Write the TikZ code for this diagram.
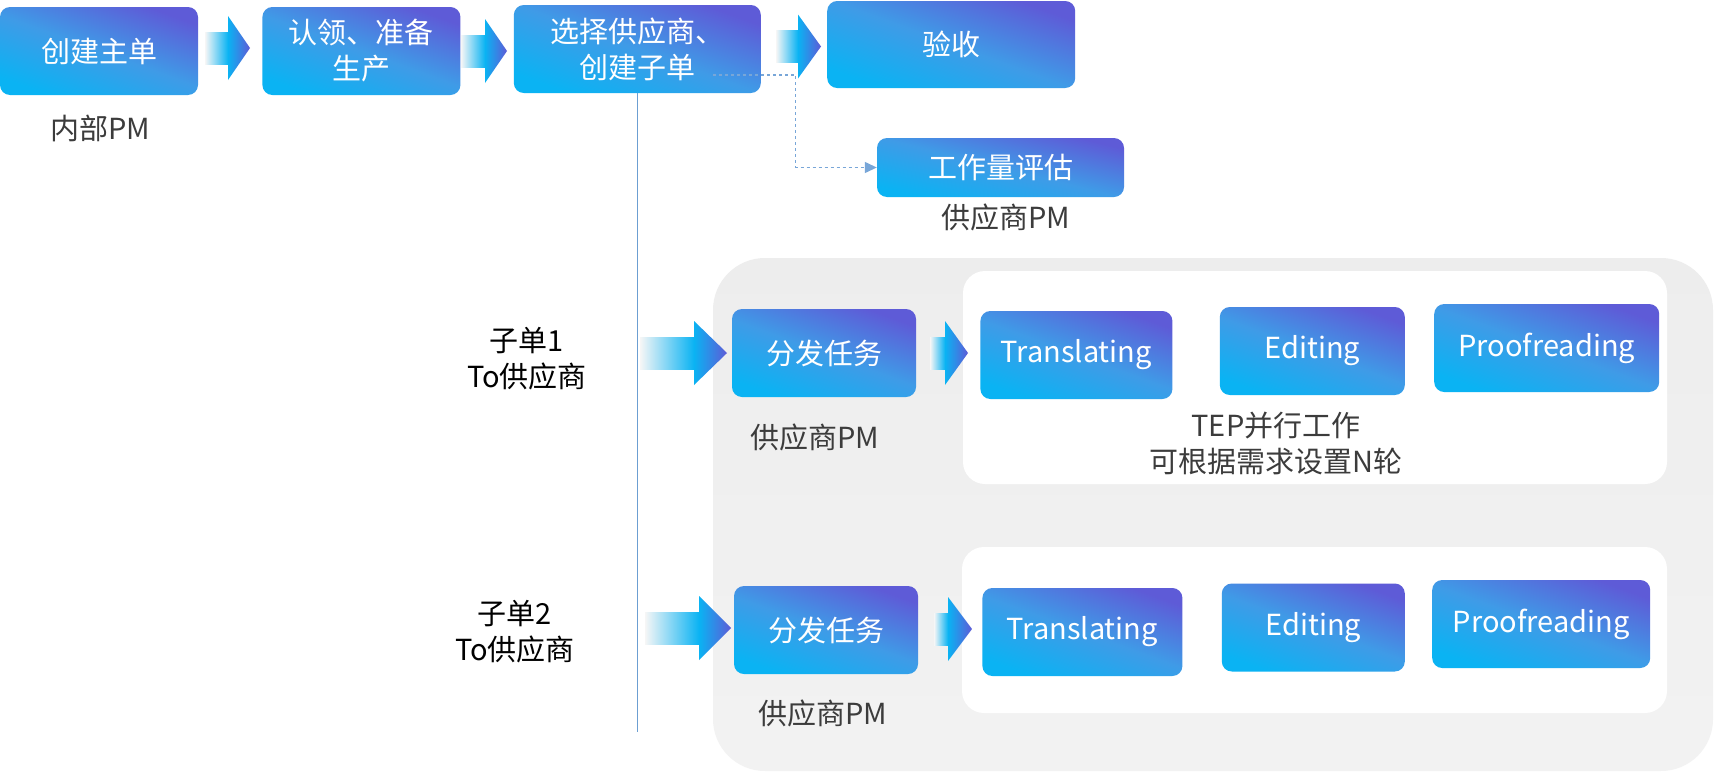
\documentclass[tikz,border=0pt]{standalone}
\usepackage{fontspec}
\setmainfont{Noto Sans CJK SC}
\usepackage{xcolor}
\usepackage{tikz}
\usetikzlibrary{arrows.meta,positioning}

\definecolor{boxA}{HTML}{0AB3F3}
\definecolor{boxM}{HTML}{3F9BE7}
\definecolor{boxB}{HTML}{5E5BD7}
\definecolor{shaftL}{HTML}{F6F6F6}
\definecolor{bggray}{HTML}{EFEFEF}
\definecolor{labelgray}{HTML}{3C3C3C}
\definecolor{lineblue}{HTML}{6C9FD2}
\definecolor{dashblue}{HTML}{78A6D8}

% fat arrow: shaft start, head start, tip, centre y
\newcommand{\fatarrow}[4]{%
  \shade[left color=shaftL, middle color=boxA!30, right color=boxA] (#1,#4-16) rectangle (#2,#4+16);
  \shade[left color=boxA, right color=boxB] (#2,#4-32) -- (#3,#4) -- (#2,#4+32) -- cycle;
}

\begin{document}
\begin{tikzpicture}[
  x=1pt, y=-1pt,
  font=\fontsize{29}{36}\selectfont,
  stage/.style={rounded corners=10pt, inner sep=0pt, align=center, text=white,
    minimum height=88pt, bottom color=boxA, top color=boxB, middle color=boxM, shading angle=-20},
  lbl/.style={text=labelgray, align=center, inner sep=0pt},
  pane/.style={fill=white, rounded corners=22pt, inner sep=0pt},
  vline/.style={draw=lineblue, line width=1pt},
  dashline/.style={draw=dashblue, dashed, line width=1.3pt, -{Triangle[length=12pt,width=11pt]}},
]
\useasboundingbox (0,0) rectangle (1715,771);
\fill[white] (0,0) rectangle (1715,771);

% supplier area
\shade[top color=black!7, bottom color=black!5, rounded corners=52pt] (713,258) rectangle (1713,771);
\node[pane, minimum width=704pt, minimum height=213pt] (tep1pane) at (1315,377.5) {};
\node[pane, minimum width=705pt, minimum height=166pt] (tep2pane) at (1314.5,630) {};

% main order
\node[stage, minimum width=198pt] (create) at (99,51) {创建主单};
\node[stage, minimum width=198pt, right=64pt of create] (claim) {认领、准备\\生产};
\node[stage, minimum width=247pt, right=53pt of claim, yshift=2pt] (select) {选择供应商、\\创建子单};
\node[stage, minimum width=248pt, minimum height=87pt, right=66pt of select, yshift=4.5pt] (accept) {验收};
\node[stage, minimum width=247pt, minimum height=59pt, shading angle=-14] (workload) at (1000.5,167.5) {工作量评估};

\node[lbl] (pmint) at (100,128) {内部PM};
\node[lbl] (pmvend) at (1006,217) {供应商PM};

\fatarrow{205}{228}{250}{48}
\fatarrow{461}{485}{507}{51}
\fatarrow{776}{798}{821}{46.5}

\draw[vline] (select.south) -- (select.south |- 0,732);
\coordinate (dstart) at (713,75);
\draw[dashline] (dstart) -| ([xshift=-81pt]workload.west) -- (workload.west);

% sub order 1
\node[lbl, text=black] (sub1) at (527,359) {子单1\\To供应商};
\node[stage, minimum width=184pt] (split1) at (824,353) {分发任务};
\node[lbl] (pm1) at (815,437) {供应商PM};
\node[stage, minimum width=192pt, right=64pt of split1, yshift=-2pt] (trans1) {Translating};
\node[stage, minimum width=185pt, right=47pt of trans1, yshift=4pt] (edit1) {Editing};
\node[stage, minimum width=225pt, right=29pt of edit1, yshift=3pt] (proof1) {Proofreading};
\node[lbl] (tep) at (1276,443) {TEP并行工作\\可根据需求设置N轮};
\fatarrow{640}{694}{727}{353}
\fatarrow{930}{945}{968}{353}

% sub order 2
\node[lbl, text=black] (sub2) at (515,632) {子单2\\To供应商};
\node[stage, minimum width=184pt] (split2) at (826,630) {分发任务};
\node[lbl] (pm2) at (823,713) {供应商PM};
\node[stage, minimum width=200pt, right=64pt of split2, yshift=-2pt] (trans2) {Translating};
\node[stage, minimum width=183pt, right=39pt of trans2, yshift=4.5pt] (edit2) {Editing};
\node[stage, minimum width=218pt, right=27pt of edit2, yshift=3.5pt] (proof2) {Proofreading};
\fatarrow{645}{699}{731}{628}
\fatarrow{934}{948}{972}{629}
\end{tikzpicture}
\end{document}
